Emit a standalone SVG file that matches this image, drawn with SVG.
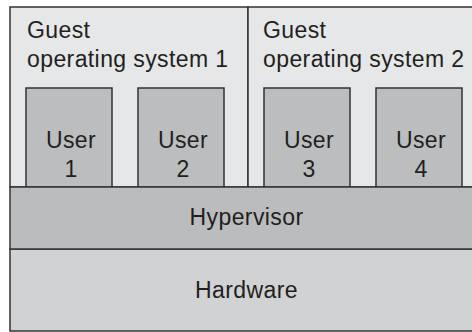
<svg xmlns="http://www.w3.org/2000/svg" width="472" height="332" viewBox="0 0 472 332">
<style>
.box{stroke:#333;stroke-width:1.5}
.os{fill:#e6e7e8}
.user{fill:#bcbdbf}
.hyp{fill:#bbbcbe}
.hw{fill:#d1d2d4}
text{font-family:"Liberation Sans",Arial,sans-serif;font-size:23px;letter-spacing:0.4px;fill:#231f20}
.c{text-anchor:middle}
</style>
<rect x="0" y="0" width="472" height="332" fill="#ffffff"/>
<g id="hardware">
<rect class="box hw" x="10" y="249" width="480" height="82"/>
<text class="c" x="246.5" y="298">Hardware</text>
</g>
<g id="guest-os-1">
<rect class="box os" x="10" y="7" width="238" height="180"/>
<text x="27" y="38">Guest</text>
<text x="27" y="67">operating system 1</text>
</g>
<g id="guest-os-2">
<rect class="box os" x="248" y="7" width="242" height="180"/>
<text x="263" y="38">Guest</text>
<text x="263" y="67">operating system 2</text>
</g>
<g id="user-1">
<rect class="box user" x="26" y="88" width="86" height="99"/>
<text class="c" x="71" y="148">User</text>
<text class="c" x="71" y="177">1</text>
</g>
<g id="user-2">
<rect class="box user" x="138" y="88" width="86" height="99"/>
<text class="c" x="183" y="148">User</text>
<text class="c" x="183" y="177">2</text>
</g>
<g id="user-3">
<rect class="box user" x="264" y="88" width="86" height="99"/>
<text class="c" x="309" y="148">User</text>
<text class="c" x="309" y="177">3</text>
</g>
<g id="user-4">
<rect class="box user" x="376" y="88" width="86" height="99"/>
<text class="c" x="421" y="148">User</text>
<text class="c" x="421" y="177">4</text>
</g>
<g id="hypervisor">
<rect class="box hyp" x="10" y="187" width="480" height="62"/>
<text class="c" x="246.5" y="225">Hypervisor</text>
</g>
<g id="connectors"></g>
</svg>
